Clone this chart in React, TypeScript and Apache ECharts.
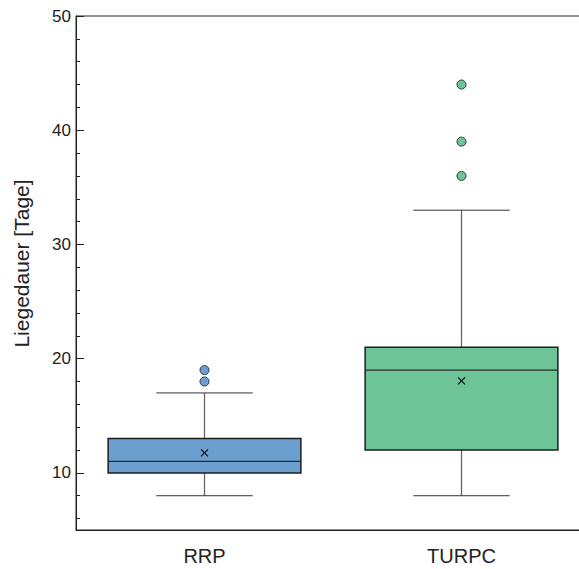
import React, { useEffect, useRef } from "react";
import * as echarts from "echarts";

const categories = ["RRP", "TURPC"];
const lowWhisker = [8, 8];
const q1 = [10, 12];
const median = [11, 19];
const q3 = [13, 21];
const highWhisker = [17, 33];
const means = [11.75, 18.05];
const outliersRRP = [18, 19];
const outliersTURPC = [36, 39, 44];
const boxColors = ["#6b9fd0", "#6cc497"];
const yTitle = "Liegedauer [Tage]";

export default function App() {
  const ref = useRef<HTMLDivElement>(null);
  useEffect(() => {
    if (!ref.current) return;
    const chart = echarts.init(ref.current, null, { renderer: "svg" });
    const font = "Liberation Sans, Arial, sans-serif";
    const boxData = categories.map((c, i) => [
      i,
      lowWhisker[i],
      q1[i],
      median[i],
      q3[i],
      highWhisker[i],
      means[i],
    ]);
    const outlierData = [
      ...outliersRRP.map((v) => ({ value: [0, v], itemStyle: { color: boxColors[0] } })),
      ...outliersTURPC.map((v) => ({ value: [1, v], itemStyle: { color: boxColors[1] } })),
    ];
    chart.setOption({
      animation: false,
      backgroundColor: "#ffffff",
      grid: {
        left: 76,
        top: 16,
        bottom: 39,
        width: 514,
        outerBoundsMode: "none",
        containLabel: false,
        show: true,
        borderColor: "#222",
        borderWidth: 1,
        backgroundColor: "transparent",
      },
      graphic: [
        {
          type: "text",
          x: 21,
          y: 263.5,
          rotation: Math.PI / 2,
          style: {
            text: yTitle,
            fontSize: 21,
            fontFamily: font,
            fill: "#222",
            align: "center",
            verticalAlign: "middle",
          },
        },
      ],
      xAxis: {
        type: "category",
        data: categories,
        axisTick: { show: false },
        axisLine: { lineStyle: { color: "#222", width: 1 } },
        axisLabel: { fontSize: 20, color: "#222", margin: 16, fontFamily: font },
        splitLine: { show: false },
      },
      yAxis: {
        type: "value",
        min: 5,
        max: 50,
        minInterval: 10,
        maxInterval: 10,
        splitNumber: 5,
        axisLine: { show: true, lineStyle: { color: "#222", width: 1 } },
        axisTick: { show: true, inside: true, length: 8, lineStyle: { color: "#222" } },
        minorTick: { show: true, splitNumber: 5, length: 4, lineStyle: { color: "#222" } },
        axisLabel: {
          fontSize: 17,
          color: "#222",
          margin: 5,
          fontFamily: font,
          formatter: (v: number) => (v % 10 === 0 ? String(v) : ""),
        },
        splitLine: { show: false },
        minorSplitLine: { show: false },
      },
      series: [
        {
          type: "custom",
          data: boxData,
          encode: { x: 0, y: [1, 2, 3, 4, 5] },
          renderItem: (params: any, api: any) => {
            const i = api.value(0);
            const bw = api.size([1, 0])[0];
            const half = bw * 0.375;
            const capHalf = bw * 0.1875;
            const x = api.coord([i, 0])[0];
            const y = (v: number) => api.coord([i, v])[1];
            const yl = y(api.value(1));
            const y1 = y(api.value(2));
            const ym = y(api.value(3));
            const y3 = y(api.value(4));
            const yh = y(api.value(5));
            const ymean = y(api.value(6));
            const color = boxColors[params.dataIndex];
            const wStyle = { stroke: "#666", lineWidth: 1.3 };
            const cStyle = { stroke: "#333", lineWidth: 1 };
            const xs = 3.5;
            return {
              type: "group",
              children: [
                { type: "line", shape: { x1: x, y1: yl, x2: x, y2: y1 }, style: wStyle },
                { type: "line", shape: { x1: x, y1: y3, x2: x, y2: yh }, style: wStyle },
                { type: "line", shape: { x1: x - capHalf, y1: yl, x2: x + capHalf, y2: yl }, style: cStyle },
                { type: "line", shape: { x1: x - capHalf, y1: yh, x2: x + capHalf, y2: yh }, style: cStyle },
                {
                  type: "rect",
                  shape: { x: x - half, y: y3, width: 2 * half, height: y1 - y3 },
                  style: { fill: color, stroke: "#1e1e1e", lineWidth: 1.5 },
                },
                { type: "line", shape: { x1: x - half, y1: ym, x2: x + half, y2: ym }, style: { stroke: "#2a2a2a", lineWidth: 1.3 } },
                { type: "line", shape: { x1: x - xs, y1: ymean - xs, x2: x + xs, y2: ymean + xs }, style: { stroke: "#111", lineWidth: 1.2 } },
                { type: "line", shape: { x1: x - xs, y1: ymean + xs, x2: x + xs, y2: ymean - xs }, style: { stroke: "#111", lineWidth: 1.2 } },
              ],
            };
          },
          z: 2,
        },
        {
          type: "scatter",
          data: outlierData,
          symbol: "circle",
          symbolSize: 9,
          itemStyle: { borderColor: "#333", borderWidth: 1, opacity: 1 },
          z: 3,
        },
      ],
    });
    return () => chart.dispose();
  }, []);
  return <div ref={ref} style={{ width: 579, height: 569, position: "absolute", left: 0, top: 0 }} />;
}
